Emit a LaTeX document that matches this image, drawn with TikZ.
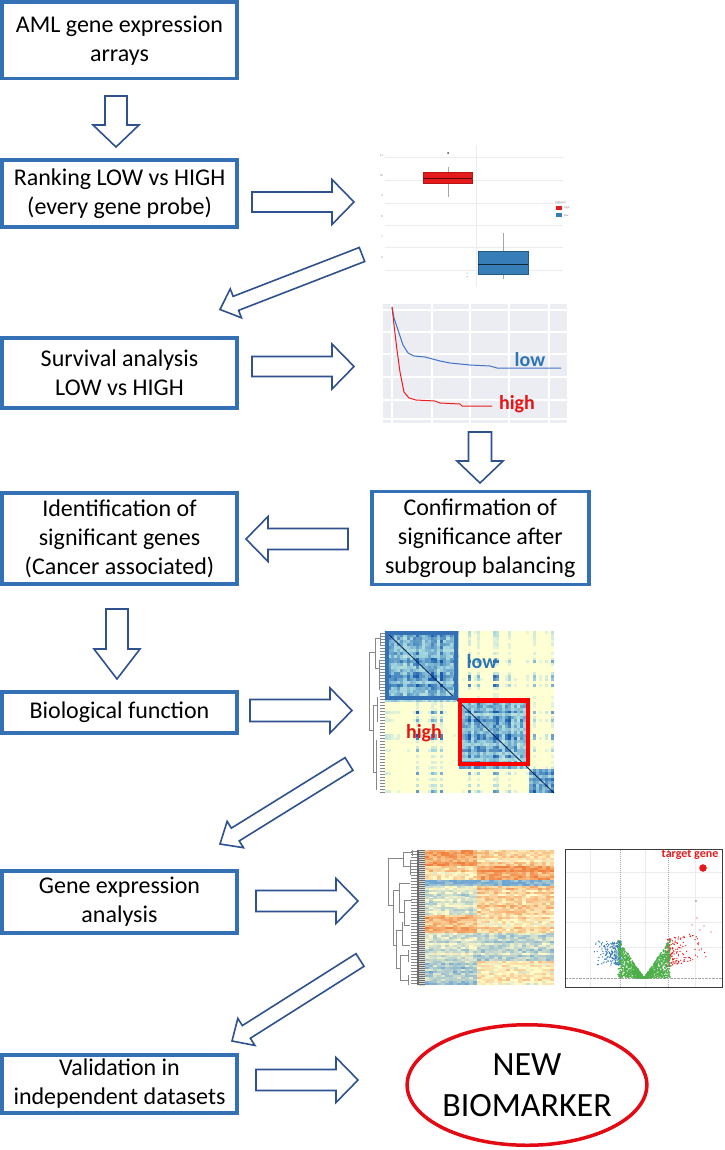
\documentclass[tikz,border=0pt]{standalone}
\usepackage{fontspec}
\setmainfont{Carlito}
\usetikzlibrary{calc,shapes.geometric}
\definecolor{boxblue}{RGB}{52,113,180}
\definecolor{arrblue}{RGB}{47,82,143}
\definecolor{bmred}{RGB}{228,10,20}
\definecolor{lowblue}{RGB}{46,117,182}
\definecolor{highred}{RGB}{232,20,20}
\definecolor{gridgray}{RGB}{236,236,236}
\definecolor{survbg}{RGB}{236,236,243}
\definecolor{survblue}{RGB}{68,114,196}
\definecolor{survred}{RGB}{235,30,30}
\definecolor{hmyel}{RGB}{255,255,212}
\definecolor{hmteal}{RGB}{160,212,222}
\definecolor{hmblue}{RGB}{22,90,172}
\definecolor{hmpale}{RGB}{255,250,200}
\definecolor{hmorange}{RGB}{240,128,62}
\definecolor{hmlblue}{RGB}{110,165,210}
\definecolor{vgreen}{RGB}{77,175,74}
\definecolor{vblue}{RGB}{55,126,184}
\definecolor{vred}{RGB}{228,26,28}
\definecolor{vframe}{RGB}{60,60,60}
\definecolor{bpred}{RGB}{228,26,28}
\definecolor{bpblue}{RGB}{55,126,184}
\definecolor{dendro}{RGB}{135,135,135}
\definecolor{diagnavy}{RGB}{10,30,90}

\tikzset{
 flowbox/.style={draw=boxblue, line width=3.6pt, rectangle, inner sep=0pt, align=center, font=\fontsize{24}{29}\selectfont},
 blockarrow/.style={draw=arrblue, line width=1.6pt, fill=white, line join=miter},
 tinytxt/.style={font=\fontsize{3}{3.5}\selectfont, text=gray, inner sep=0pt},
 plotlbl/.style={font=\bfseries\fontsize{20}{22}\selectfont, inner sep=0pt},
 dlines/.style={draw=dendro, line width=0.5pt},
}

% block arrow between two named coordinates: tail, tip, shaft half width, head half width, head length
\newcommand{\blockarr}[5]{%
  \draw[blockarrow] ($(#1)!#3!90:(#2)$)
    -- ($($(#2)!#5!(#1)$)!#3!90:(#2)$)
    -- ($($(#2)!#5!(#1)$)!#4!90:(#2)$)
    -- (#2)
    -- ($($(#2)!#5!(#1)$)!#4!-90:(#2)$)
    -- ($($(#2)!#5!(#1)$)!#3!-90:(#2)$)
    -- ($(#1)!#3!-90:(#2)$) -- cycle;}

\begin{document}
\begin{tikzpicture}[x=1pt,y=-1pt]
\useasboundingbox (0,0) rectangle (724,1150);
\fill[white] (0,0) rectangle (724,1150);
\pgfmathsetseed{271}

% ---------------- boxplot panel ----------------
\foreach \y in {157,180,203,225,247,270} \draw[gridgray, line width=0.6pt] (385,\y) -- (563,\y);
\draw[gridgray, line width=0.6pt] (476,145) -- (476,287);
\foreach \y/\t in {156/11,176/10,196/9,216/8,237/7,257/6} \node[tinytxt, anchor=east] at (383,\y) {\t};
\draw[gray!70, line width=0.5pt] (448,167) -- (448,197);
\fill[black!70] (448,153) circle (1pt);
\filldraw[fill=bpred, draw=bpred!80!black, line width=0.4pt] (423,172) rectangle (472,183);
\draw[bpred!40!black, line width=0.8pt] (423,178) -- (472,178);
\draw[gray!70, line width=0.5pt] (503,233) -- (503,279);
\filldraw[fill=bpblue, draw=bpblue!70!black, line width=0.4pt] (478,251) rectangle (528,274);
\draw[bpblue!30!black, line width=0.8pt] (478,264) -- (528,264);
\fill[gray] (467,273) circle (0.5pt) (467,276.5) circle (0.5pt);
\node[tinytxt, anchor=west] at (555,203) {HighLow};
\fill[bpred] (556,206) rectangle (562,210);
\fill[bpblue] (556,213) rectangle (562,217);
\node[tinytxt, anchor=west] at (564,208) {high};
\node[tinytxt, anchor=west] at (564,215) {low};

% ---------------- survival panel ----------------
\fill[survbg] (383,304) rectangle (567,423);
\foreach \x in {392,432,470,509,549} \draw[white, line width=1.2pt] (\x,304) -- (\x,423);
\foreach \y in {310,332,354,377,400,419} \draw[white, line width=1.2pt] (383,\y) -- (567,\y);
\draw[survblue, line width=1pt] (392,307) -- (394,318) -- (398,330) -- (403,345) -- (408,353) -- (414,356) -- (425,357) -- (440,361) -- (450,363) -- (470,365) -- (490,366) -- (497,368) -- (561,368);
\draw[survred, line width=1pt] (392,307) -- (394,325) -- (397,350) -- (400,372) -- (404,392) -- (409,398) -- (416,400) -- (435,401) -- (440,403) -- (460,404) -- (462,406) -- (492,406);
\node[plotlbl, text=lowblue, anchor=base] (slow) at (530,366) {low};
\node[plotlbl, text=highred, anchor=base] (shigh) at (517,409) {high};

% ---------------- correlation heatmap ----------------
\fill[hmyel] (385,631) rectangle (554,793);
\foreach \j in {0,...,54}{
 \pgfmathsetmacro\fj{mod(abs(sin(\j*47.3+13))*731.7,1)}
 \pgfmathtruncatemacro\gj{\j<24 ? 0 : (\j<47 ? 1 : 2)}
 \foreach \i in {0,...,54}{
  \pgfmathsetmacro\fci{mod(abs(sin(\i*47.3+13))*731.7,1)}
  \pgfmathtruncatemacro\gi{\i<24 ? 0 : (\i<47 ? 1 : 2)}
  \ifnum\gi=\gj
    \pgfmathtruncatemacro\pc{min(100,100*(0.42+0.6*sqrt(\fci*\fj)+0.15*rand))}
  \else
    \pgfmathtruncatemacro\pc{min(100,100*(1.15*\fci*\fj*\fci*\fj*\fci+0.1*rnd))}
  \fi
  \ifnum\pc>12
   \ifnum\pc<50 \pgfmathtruncatemacro\pa{2*\pc}\def\hc{hmteal!\pa!hmyel}\else\pgfmathtruncatemacro\pa{2*\pc-100}\def\hc{hmblue!\pa!hmteal}\fi
   \fill[fill=\hc] (385+\i*3.073,631+\j*2.945) rectangle ++(3.12,3.0);
  \fi
 }
}
\draw[diagnavy, line width=0.8pt] (385,631) -- (554,793);
\draw[boxblue, line width=4pt] (387,633) rectangle (456,698);
\draw[red, line width=4.5pt] (460,700.5) rectangle (528,764);
\node[plotlbl, text=lowblue, anchor=base] (clow) at (482,668) {low};
\node[plotlbl, text=highred, anchor=base] (chigh) at (424,738) {high};
% dendrogram
\draw[dlines] (369,652) -- (369,730) (369,652) -- (375,652) (369,730) -- (373,730)
 (375,638) -- (375,668) (375,638) -- (380,638) (375,668) -- (379,668)
 (380,633) -- (380,645) (379,660) -- (379,690)
 (373,705) -- (373,772) (373,705) -- (377,705) (373,772) -- (376,772)
 (377,697) -- (377,722) (376,740) -- (376,790);
\foreach \y in {633,636,...,792} \draw[dendro, line width=0.35pt] (380,\y) -- (385,\y);

% ---------------- expression heatmap ----------------
\fill[hmpale] (425,850) rectangle (554,985);
\foreach \j in {0,...,66}{
 \pgfmathsetmacro\yc{851+\j*2.02}
 \pgfmathsetmacro\bl{\yc<867 ? 0.7 : (\yc<881 ? 0.25 : (\yc<885.5 ? -0.95 : (\yc<915 ? -0.3 : (\yc<932 ? 0.6 : (\yc<962 ? -0.3 : -0.6)))))}
 \pgfmathsetmacro\br{\yc<867 ? 0.25 : (\yc<881 ? 0.8 : (\yc<885.5 ? -0.95 : (\yc<915 ? 0.35 : (\yc<932 ? 0.2 : (\yc<962 ? -0.45 : 0.1)))))}
 \pgfmathsetmacro\rn{0.22*rand}
 \foreach \i in {0,...,31}{
   \pgfmathsetmacro\v{(\i<13 ? \bl : \br)+\rn+0.3*rand}
   \pgfmathtruncatemacro\pc{min(100,abs(\v)*95)}
   \ifnum\pc>8
    \ifdim\v pt>0pt \def\hc{hmorange!\pc!hmpale}\else\def\hc{hmlblue!\pc!hmpale}\fi
    \fill[fill=\hc] (425+\i*4.03,850+\j*2.02) rectangle ++(4.1,2.06);
   \fi
 }
}
\fill[black!58] (417,850) rectangle (425,985);
\foreach \y in {851,853,...,985} \draw[white!70!gray, line width=0.25pt] (419,\y) -- (425,\y);
\draw[dlines, line width=0.6pt] (388,858) -- (388,905) (388,858) -- (403,858) (388,905) -- (393,905)
 (403,852) -- (403,866) (403,852) -- (412,852) (403,866) -- (410,866)
 (410,860) -- (410,875) (412,850) -- (412,856)
 (393,890) -- (393,945) (393,890) -- (399,890) (393,945) -- (396,945)
 (399,883) -- (399,912) (399,883) -- (410,883) (399,912) -- (404,912)
 (404,900) -- (404,925) (404,900) -- (412,900) (404,925) -- (410,925)
 (396,930) -- (396,968) (396,930) -- (402,930) (396,968) -- (400,968)
 (402,922) -- (402,945) (402,945) -- (410,945)
 (400,955) -- (400,980) (400,955) -- (408,955) (400,980) -- (408,980)
 (408,950) -- (408,962) (408,975) -- (408,985);
\foreach \y in {851,854,...,985} \draw[dendro, line width=0.3pt] (411,\y) -- (417,\y);

% ---------------- volcano plot ----------------
\foreach \x in {590,645,695} \draw[gridgray, line width=0.5pt] (\x,850) -- (\x,987);
\foreach \y in {872,897,922,947} \draw[gridgray, line width=0.5pt] (566,\y) -- (722,\y);
\draw[gray!70, line width=0.5pt, dash pattern=on 1pt off 1pt] (620,850) -- (620,987) (668,850) -- (668,987);
\draw[gray!70, line width=0.5pt, dash pattern=on 0.7pt off 0.7pt] (566,978) -- (722,978);
\foreach \k in {1,...,260}{
  \pgfmathsetmacro\px{621-29*rnd*rnd}
  \pgfmathsetmacro\py{953+12*rand}
  \fill[vblue] (\px,\py) circle (0.7pt);
}
\foreach \k in {1,...,150}{
  \pgfmathsetmacro\px{667+42*rnd*rnd}
  \pgfmathsetmacro\py{953+14*rand-(\px-668)*0.25}
  \fill[vred] (\px,\py) circle (0.7pt);
}
\foreach \k in {1,...,1100}{
  \pgfmathsetmacro\dx{26*rand}
  \pgfmathsetmacro\py{978-abs(\dx)*1.5*rnd}
  \fill[vgreen] (644+\dx,\py) circle (0.9pt);
}
\fill[vred] (692,925) circle (0.7pt) (700,930) circle (0.7pt) (711,932) circle (0.7pt) (697,918) circle (0.7pt) (704,926) circle (0.7pt);
\fill[gray] (696,901) circle (0.8pt);
\draw[vframe, line width=1pt] (565.5,849.5) rectangle (722.5,987.5);
\fill[vred] (703,868) circle (3.8pt);
\node[font=\bfseries\fontsize{12}{14}\selectfont, text=vred, inner sep=0pt] (tg) at (690,855) {target gene};

% ---------------- flow boxes ----------------
\node[flowbox, minimum width=235pt, minimum height=76.5pt] (aml) at (119.5,40.25) {AML gene expression\\arrays};
\node[flowbox, minimum width=235pt, minimum height=67pt] (rank) at (119.5,193.5) {Ranking LOW vs HIGH\\(every gene probe)};
\node[flowbox, minimum width=235pt, minimum height=70pt] (surv) at (119.5,373) {Survival analysis\\LOW vs HIGH};
\node[flowbox, minimum width=235pt, minimum height=91pt] (ident) at (119.5,538.5) {Identification of\\significant genes\\(Cancer associated)};
\node[flowbox, minimum width=217pt, minimum height=93pt] (conf) at (480.25,538) {Confirmation of\\significance after\\subgroup balancing};
\node[flowbox, minimum width=235pt, minimum height=41pt] (bio) at (119.5,712.5) {Biological function};
\node[flowbox, minimum width=235pt, minimum height=62pt] (gexp) at (119.5,902) {Gene expression\\analysis};
\node[flowbox, minimum width=235pt, minimum height=58pt] (valid) at (119.5,1084) {Validation in\\independent datasets};
\node[ellipse, draw=bmred, line width=3.5pt, minimum width=228.5pt, minimum height=120.5pt, inner sep=0pt, align=center, font=\fontsize{34}{41}\selectfont] (nb) at (527,1085) {NEW\\BIOMARKER};

% ---------------- block arrows ----------------
\coordinate (a1t) at (116,96);   \coordinate (a1h) at (116,147);
\coordinate (a2t) at (252,202);  \coordinate (a2h) at (354,202);
\coordinate (d1t) at (362,254.5);\coordinate (d1h) at (220,309.5);
\coordinate (a3t) at (252,366.5);\coordinate (a3h) at (354,366.5);
\coordinate (a4t) at (480,432);  \coordinate (a4h) at (480,483);
\coordinate (a5t) at (348,539);  \coordinate (a5h) at (246,539);
\coordinate (a6t) at (117,609);  \coordinate (a6h) at (117,679);
\coordinate (a7t) at (250,710.5);\coordinate (a7h) at (352,710.5);
\coordinate (d2t) at (349,764);  \coordinate (d2h) at (220,844);
\coordinate (a8t) at (256,901);  \coordinate (a8h) at (358,901);
\coordinate (d3t) at (360,960);  \coordinate (d3h) at (232,1041);
\coordinate (a9t) at (256,1080); \coordinate (a9h) at (358,1080);
\blockarr{a1t}{a1h}{11pt}{23pt}{22pt}
\blockarr{a2t}{a2h}{10pt}{22.5pt}{22pt}
\blockarr{d1t}{d1h}{7.5pt}{15.5pt}{17pt}
\blockarr{a3t}{a3h}{10pt}{22.5pt}{22pt}
\blockarr{a4t}{a4h}{11.5pt}{23pt}{22pt}
\blockarr{a5t}{a5h}{10.5pt}{22.5pt}{22pt}
\blockarr{a6t}{a6h}{11pt}{23pt}{30pt}
\blockarr{a7t}{a7h}{11pt}{22.5pt}{22pt}
\blockarr{d2t}{d2h}{7.5pt}{15.5pt}{18pt}
\blockarr{a8t}{a8h}{10.5pt}{22.5pt}{22pt}
\blockarr{d3t}{d3h}{7.5pt}{16pt}{17pt}
\blockarr{a9t}{a9h}{10.5pt}{22.5pt}{22pt}
\end{tikzpicture}
\end{document}
